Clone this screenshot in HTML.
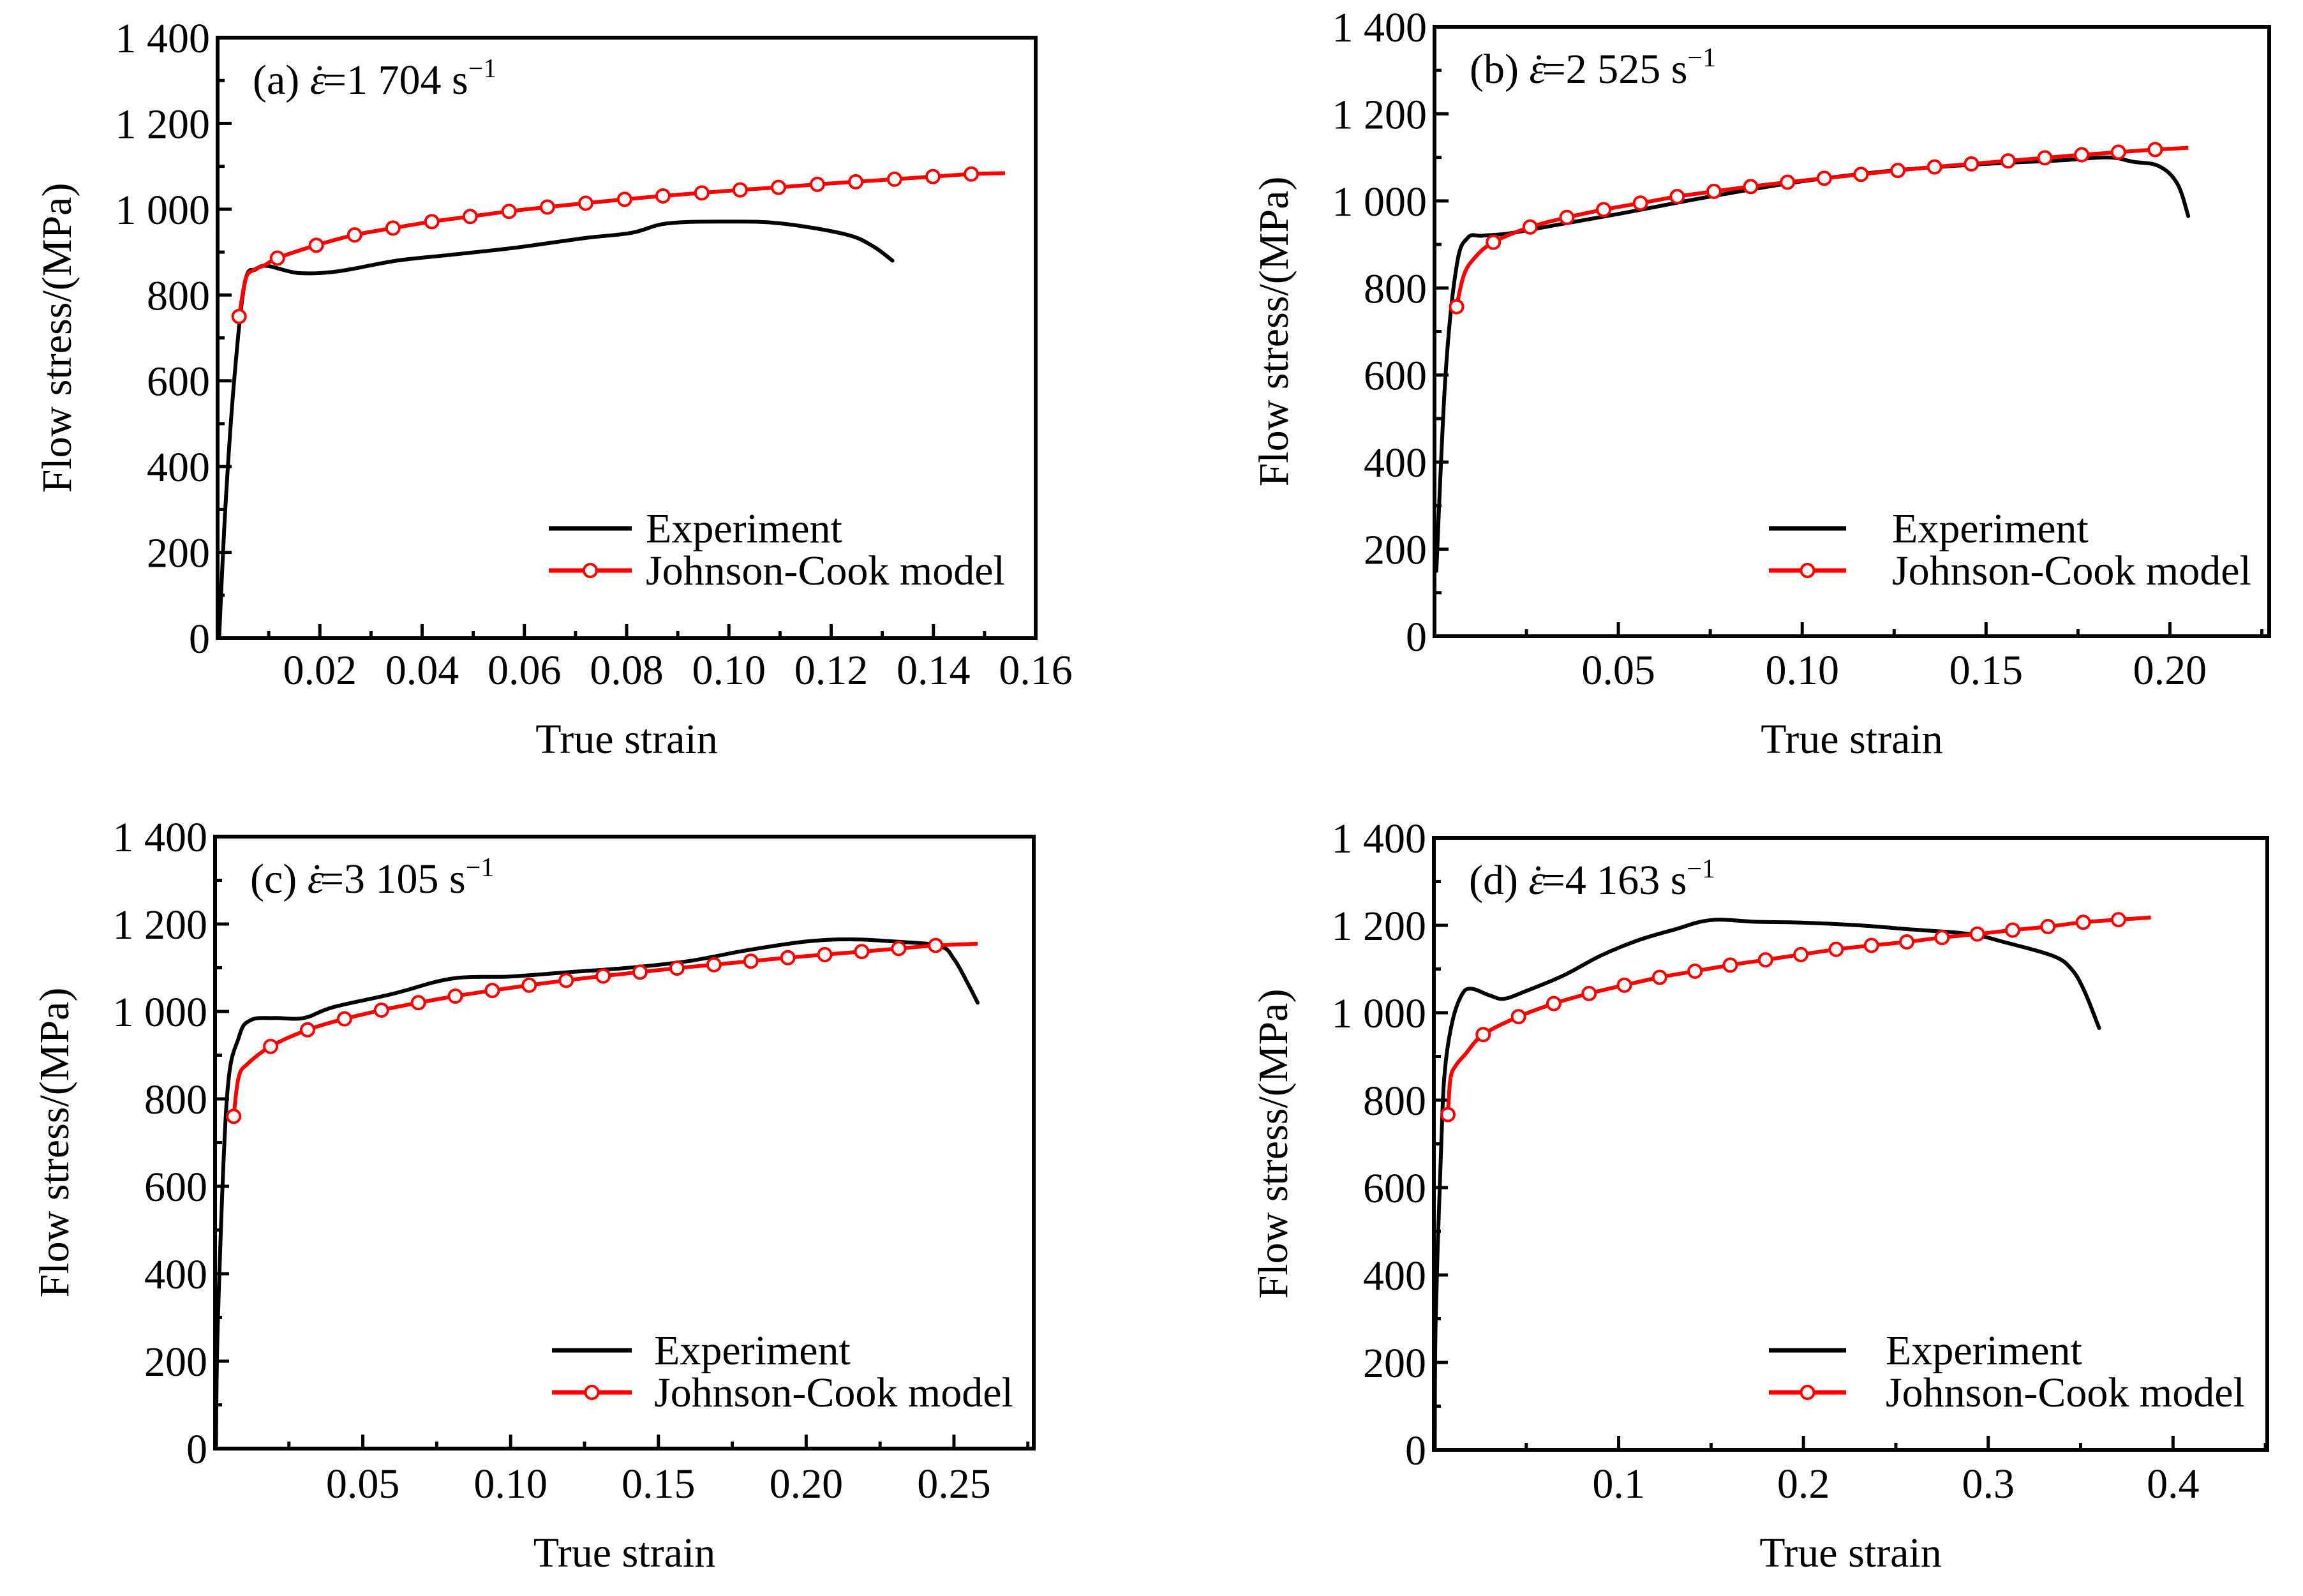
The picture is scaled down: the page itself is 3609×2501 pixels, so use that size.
<!DOCTYPE html>
<html><head><meta charset="utf-8"><style>
html,body{margin:0;padding:0;background:#fff}
svg{display:block}
text{font-family:"Liberation Serif",serif;fill:#000}
</style></head><body>
<svg id="fig" width="3609" height="2501" viewBox="0 0 3609 2501" xmlns="http://www.w3.org/2000/svg"></svg>
<script>
// Panel (a)
const aExpStrain=[0.0003,0.0015,0.0032,0.0053,0.0075,0.0096,0.013,0.016,0.021,0.026,0.035,0.045,0.058,0.072,0.081,0.088,0.0996,0.11,0.1226,0.128,0.132];
const aExpStress=[0,300,595,827,860,868,858,851,852,860,880,893,910,933,945,967,971,967,942,915,880];
const aJcStrain=[0.0042,0.0055,0.007,0.0093,0.0117,0.0193,0.0268,0.0343,0.0419,0.0494,0.057,0.0645,0.072,0.0796,0.0871,0.0947,0.1022,0.1097,0.1173,0.1248,0.1324,0.1399,0.1474,0.154];
const aJcStress=[750,838,858,870,886,916,940,956,971,983,995,1005,1014,1023,1031,1038,1045,1051,1058,1064,1070,1076,1082,1084];
const aJcMark=[1,0,0,0,1,1,1,1,1,1,1,1,1,1,1,1,1,1,1,1,1,1,1,0];
// Panel (b)
const bExpStrain=[0.0005,0.003,0.006,0.009,0.013,0.02,0.03,0.05,0.075,0.1,0.125,0.15,0.17,0.183,0.19,0.197,0.202,0.205];
const bExpStress=[150,600,850,915,920,925,940,970,1010,1045,1070,1085,1093,1100,1090,1080,1040,965];
const bJcStrain=[0.006,0.008,0.011,0.016,0.026,0.036,0.046,0.056,0.066,0.076,0.086,0.096,0.106,0.116,0.126,0.136,0.146,0.156,0.166,0.176,0.186,0.196,0.205];
const bJcStress=[757,830,870,905,940,962,980,995,1010,1022,1033,1043,1052,1061,1070,1078,1085,1092,1099,1106,1112,1118,1122];
const bJcMark=[1,0,0,1,1,1,1,1,1,1,1,1,1,1,1,1,1,1,1,1,1,1,0];
// Panel (c)
const cExpStrain=[0.0003,0.001,0.004,0.008,0.012,0.02,0.03,0.04,0.06,0.08,0.1,0.12,0.14,0.16,0.18,0.2,0.215,0.23,0.245,0.25,0.255,0.258];
const cExpStress=[0,300,800,940,980,985,985,1010,1040,1075,1080,1090,1100,1115,1140,1160,1165,1160,1150,1120,1060,1020];
const cJcStrain=[0.0063,0.008,0.011,0.0188,0.0313,0.0438,0.0563,0.0688,0.0813,0.0938,0.1063,0.1188,0.1313,0.1438,0.1563,0.1688,0.1813,0.1938,0.2063,0.2188,0.2313,0.2438,0.258];
const cJcStress=[760,850,880,920,958,983,1003,1020,1035,1048,1060,1071,1081,1090,1099,1107,1115,1123,1130,1137,1144,1151,1155];
const cJcMark=[1,0,0,1,1,1,1,1,1,1,1,1,1,1,1,1,1,1,1,1,1,1,0];
// Panel (d)
const dExpStrain=[0.0005,0.001,0.004,0.006,0.01,0.015,0.02,0.03,0.038,0.05,0.07,0.09,0.11,0.13,0.15,0.175,0.2,0.23,0.26,0.29,0.31,0.335,0.345,0.352,0.36];
const dExpStress=[0,300,700,870,980,1040,1055,1040,1032,1050,1085,1130,1165,1190,1212,1208,1206,1200,1190,1180,1160,1130,1100,1050,965];
const dJcStrain=[0.0076,0.009,0.012,0.017,0.0267,0.0458,0.0649,0.084,0.1031,0.1222,0.1413,0.1604,0.1795,0.1986,0.2177,0.2368,0.2559,0.275,0.2941,0.3132,0.3323,0.3514,0.3705,0.388];
const dJcStress=[767,850,880,905,950,991,1021,1044,1063,1081,1095,1109,1121,1133,1145,1154,1162,1172,1180,1189,1197,1207,1213,1218];
const dJcMark=[1,0,0,0,1,1,1,1,1,1,1,1,1,1,1,1,1,1,1,1,1,1,1,0];

const NS="http://www.w3.org/2000/svg";
const svg=document.getElementById('fig');
function mk(tag,attrs,parent){const e=document.createElementNS(NS,tag);for(const k in attrs)e.setAttribute(k,attrs[k]);(parent||svg).appendChild(e);return e;}
function fmtY(v){return v>=1000?String(v).replace(/^(\d)(\d{3})$/,'$1 $2'):String(v);}
function smooth(pts){
  let d='M'+pts[0][0].toFixed(1)+','+pts[0][1].toFixed(1);
  for(let i=0;i<pts.length-1;i++){
    const p0=pts[Math.max(0,i-1)],p1=pts[i],p2=pts[i+1],p3=pts[Math.min(pts.length-1,i+2)];
    const t=0.35;
    const c1=[p1[0]+(p2[0]-p0[0])*t/2,p1[1]+(p2[1]-p0[1])*t/2];
    const c2=[p2[0]-(p3[0]-p1[0])*t/2,p2[1]-(p3[1]-p1[1])*t/2];
    d+=' C'+c1[0].toFixed(1)+','+c1[1].toFixed(1)+' '+c2[0].toFixed(1)+','+c2[1].toFixed(1)+' '+p2[0].toFixed(1)+','+p2[1].toFixed(1);
  }
  return d;
}
const FS=66;
function panel(p){
  const g=mk('g',{});
  
  
  const L=p.box[0],T=p.box[1],R=p.box[2],B=p.box[3];
  const sx=v=>L+v/(p.xmax)*(R-L);
  const sy=v=>B-v/1400*(B-T);
  for(let v=0;v<=1400;v+=100){
    const major=v%200===0;const y=sy(v);
    const t=mk('line',{x1:L,x2:L+(major?22:11),y1:y,y2:y,stroke:'#000','stroke-width':5},g);
    
    
    if(major){const tx=mk('text',{x:L-12,y:y+23,'text-anchor':'end','font-size':FS},g);tx.textContent=fmtY(v);
      
      }
  }
  const n=Math.round(p.xmax/p.minor+1e-6);
  for(let i=1;i<=n;i++){
    const v=i*p.minor;const x=sx(v);if(x>R+3)continue;
    const major=i%2===0;
    const t=mk('line',{x1:x,x2:x,y1:B,y2:B-(major?22:11),stroke:'#000','stroke-width':5},g);
    
    
    if(major){const tx=mk('text',{x:x,y:p.xlabY,'text-anchor':'middle','font-size':FS},g);tx.textContent=v.toFixed(p.dec);
      
      }
  }
  const fr=mk('rect',{x:L,y:T,width:R-L,height:B-T,fill:'none',stroke:'#000','stroke-width':6},g);
  
  
  const el=mk('path',{d:smooth(p.ex.map((v,i)=>[sx(v),sy(p.ey[i])])),fill:'none',stroke:'#000','stroke-width':6,'stroke-linejoin':'round','stroke-linecap':'round'},g);
  
  
  const jl=mk('path',{d:smooth(p.jx.map((v,i)=>[sx(v),sy(p.jy[i])])),fill:'none',stroke:'#f00','stroke-width':6,'stroke-linejoin':'round'},g);
  
  
  p.jx.forEach((v,i)=>{if(!p.jm[i])return;
    const c=mk('circle',{cx:sx(v),cy:sy(p.jy[i]),r:10,fill:'#fff',stroke:'#f00','stroke-width':4},g);
    
    });
  const an=mk('text',{x:L+55,y:T+88,'font-size':FS},g);
  
  
  an.innerHTML='('+p.id+') <tspan font-style="italic">ε</tspan><tspan dx="-22">˙</tspan><tspan dx="-6">=</tspan>'+p.rate+' s<tspan font-size="42" dy="-26">−1</tspan>';
  const yt=mk('text',{x:0,y:0,'text-anchor':'middle','font-size':FS,transform:'translate('+(L-230)+','+((T+B)/2)+') rotate(-90)'},g);
  yt.textContent='Flow stress/(MPa)';
  
  
  const xt=mk('text',{x:(L+R)/2,y:p.xtY,'text-anchor':'middle','font-size':FS},g);
  xt.textContent='True strain';
  
  
  const lg=mk('g',{},g);
  
  
  const l1=mk('line',{x1:p.leg[0],x2:p.leg[1],y1:p.leg[3],y2:p.leg[3],stroke:'#000','stroke-width':7},lg);
  
  
  const t1=mk('text',{x:p.leg[2],y:p.leg[3]+22,'font-size':FS},lg);t1.textContent='Experiment';
  
  
  const l2=mk('line',{x1:p.leg[0],x2:p.leg[1],y1:p.leg[4],y2:p.leg[4],stroke:'#f00','stroke-width':7},lg);
  
  
  const c2=mk('circle',{cx:(p.leg[0]+p.leg[1])/2,cy:p.leg[4],r:10,fill:'#fff',stroke:'#f00','stroke-width':4},lg);
  
  
  const t2=mk('text',{x:p.leg[2],y:p.leg[4]+22,'font-size':FS},lg);t2.textContent='Johnson-Cook model';
  
  
}
panel({id:'a',box:[341,59,1623,1000],xmax:0.16,minor:0.01,dec:2,xlabY:1072,xtY:1180,rate:'1 704',
  ex:aExpStrain,ey:aExpStress,jx:aJcStrain,jy:aJcStress,jm:aJcMark,leg:[860,990,1012,828,894]});
panel({id:'b',box:[2248,42,3556,997],xmax:0.227,minor:0.025,dec:2,xlabY:1072,xtY:1180,rate:'2 525',
  ex:bExpStrain,ey:bExpStress,jx:bJcStrain,jy:bJcStress,jm:bJcMark,leg:[2772,2893,2965,828,894]});
panel({id:'c',box:[337,1311,1620,2270],xmax:0.277,minor:0.025,dec:2,xlabY:2347,xtY:2455,rate:'3 105',
  ex:cExpStrain,ey:cExpStress,jx:cJcStrain,jy:cJcStress,jm:cJcMark,leg:[865,990,1025,2116,2182]});
panel({id:'d',box:[2247,1313,3553,2272],xmax:0.451,minor:0.05,dec:1,xlabY:2347,xtY:2455,rate:'4 163',
  ex:dExpStrain,ey:dExpStress,jx:dJcStrain,jy:dJcStress,jm:dJcMark,leg:[2772,2893,2955,2116,2182]});
</script>
</body></html>
